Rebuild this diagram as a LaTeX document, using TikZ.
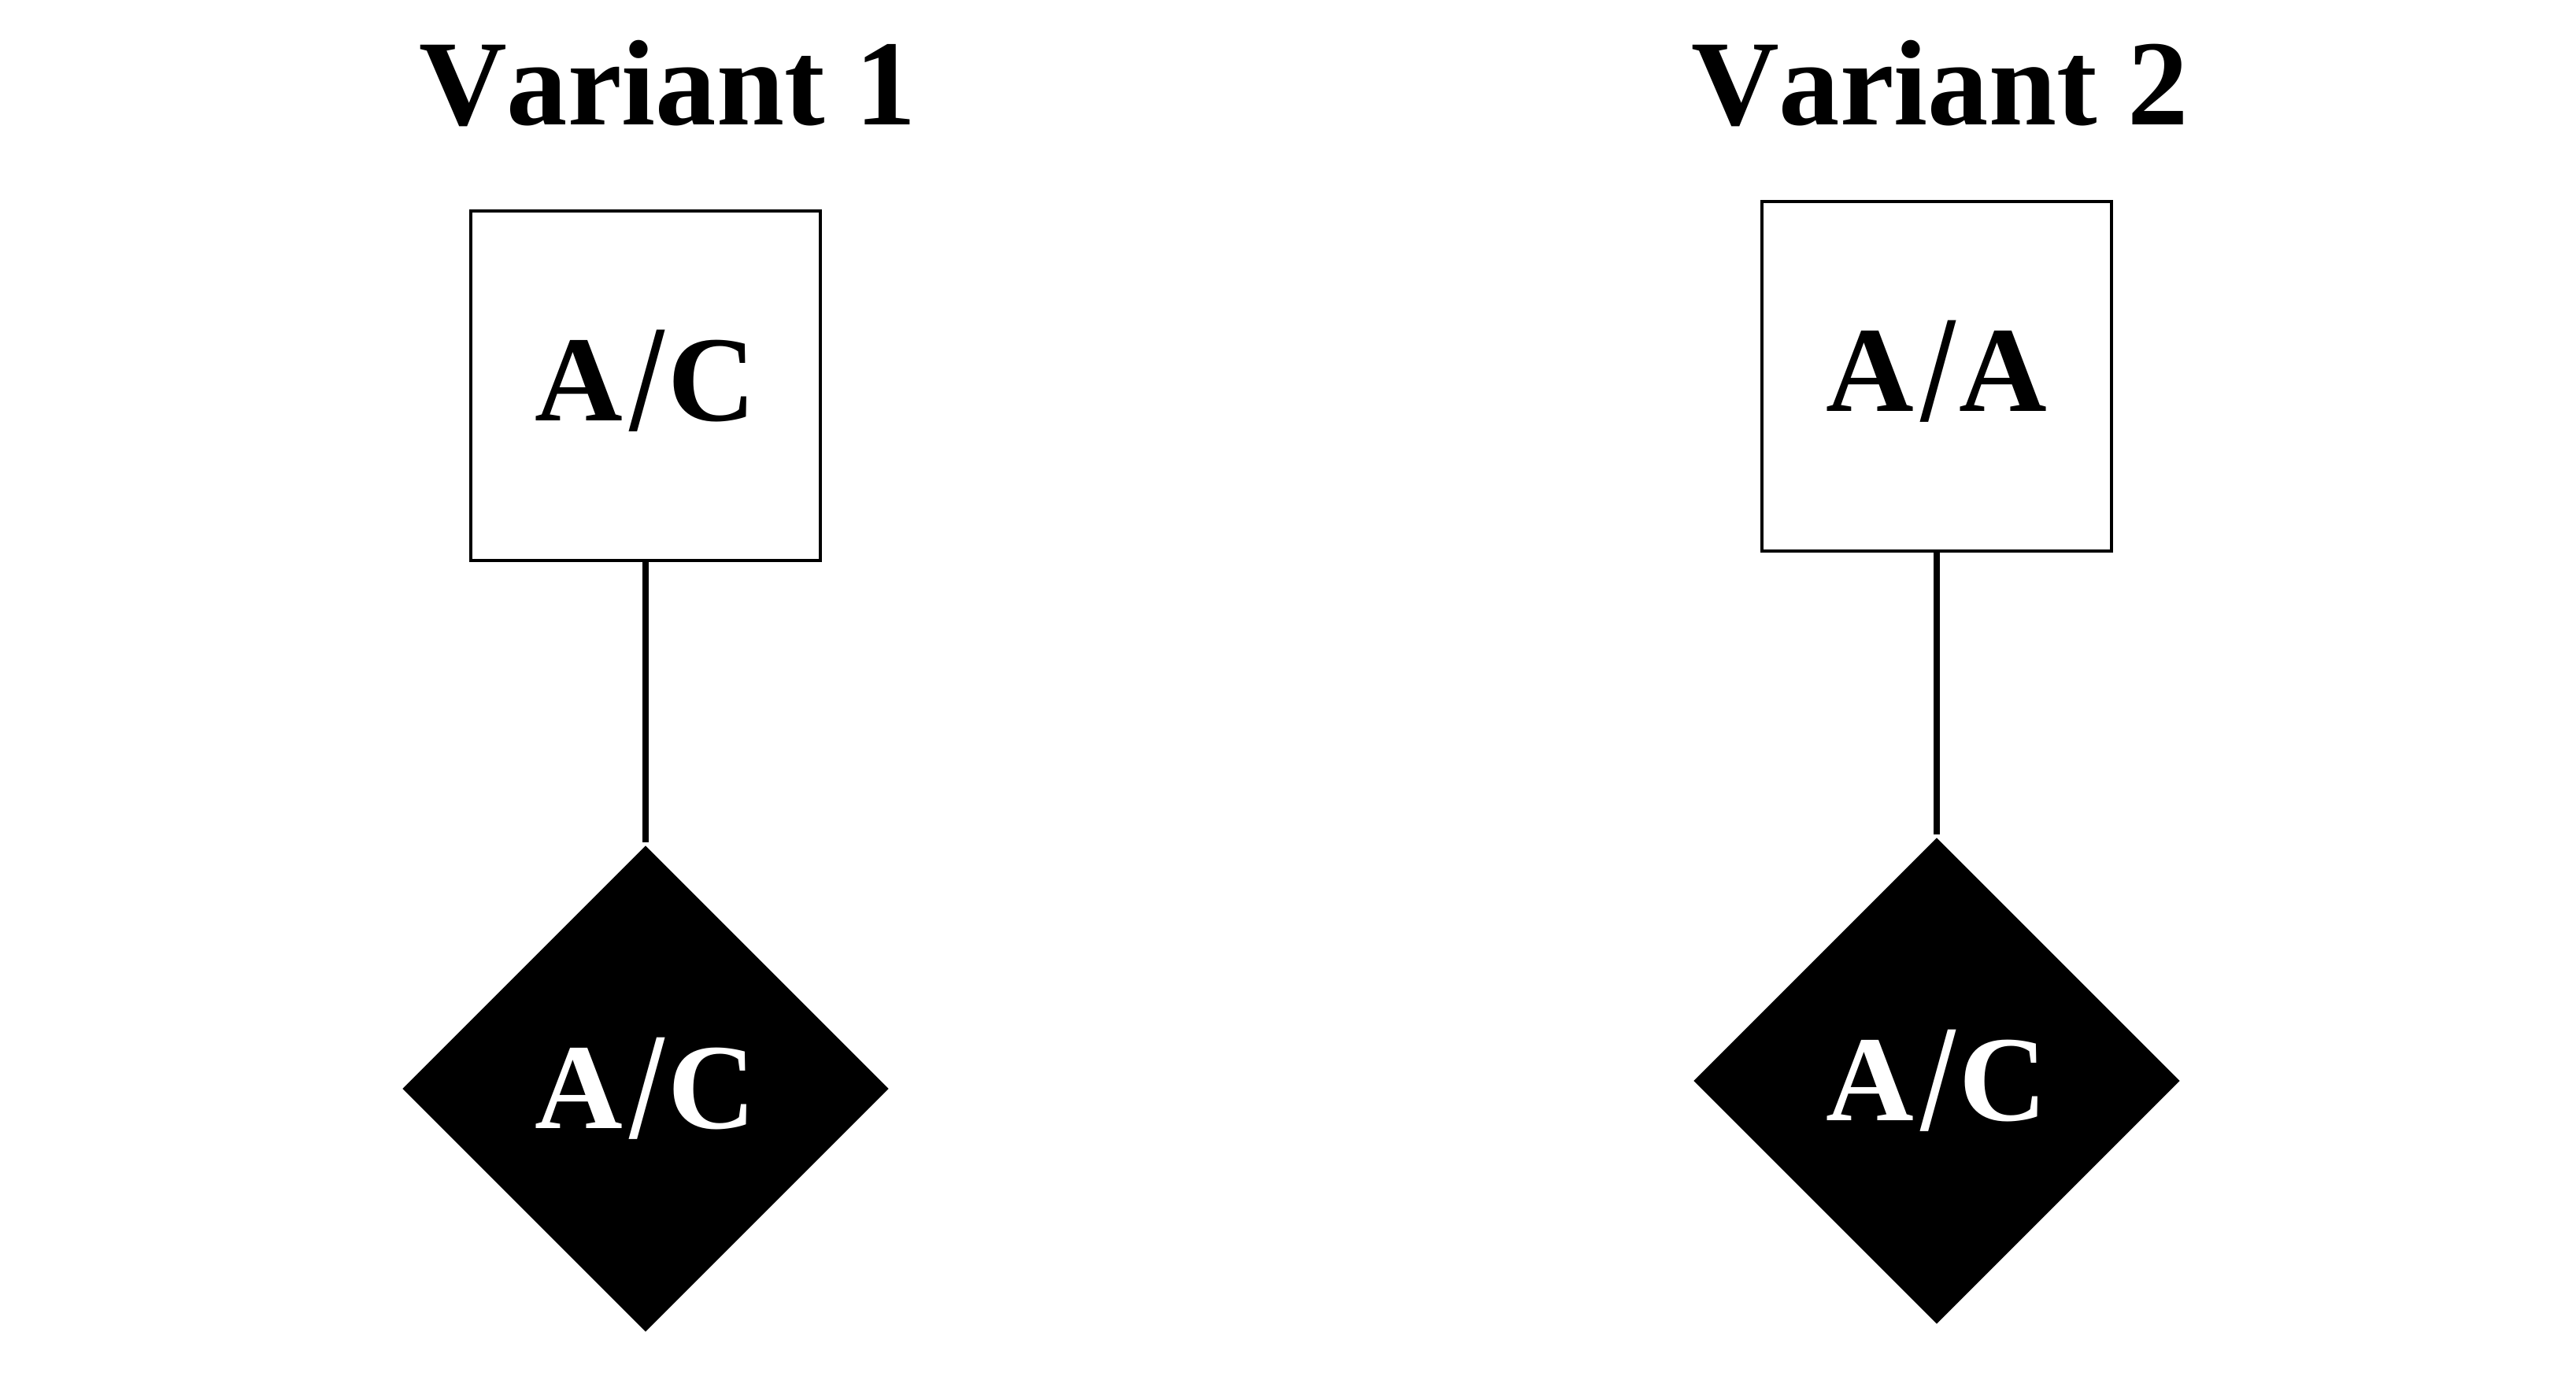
\documentclass[tikz,border=0pt]{standalone}
\usepackage{fontspec}
\setmainfont[Kerning=Off]{Liberation Serif}
\usetikzlibrary{shapes.geometric}

% Define the tall slash
\newcommand{\gsl}{\kern0.06em\raisebox{-0.08em}{\scalebox{1}[1.25]{/}}\kern0.03em}

\begin{document}
\begin{tikzpicture}[
    genbox/.style={draw, line width=1.1pt, minimum size=4.44cm, inner sep=0pt,
        text depth=0.26cm, font=\fontsize{44}{50}\selectfont\bfseries},
    gendia/.style={diamond, fill=black, minimum size=6.18cm, inner sep=0pt,
        text=white, text depth=0.14cm, font=\fontsize{44}{50}\selectfont\bfseries},
    vtitle/.style={anchor=base, font=\fontsize{44}{50}\selectfont\bfseries},
    link/.style={line width=2.2pt, shorten >=1pt}
]
    % Define the page
    \useasboundingbox (0,0) rectangle (32.72,-17.67);

    % Define Coordinates
    \coordinate (L) at (8.20,-4.90);    % left box
    \coordinate (LD) at (8.20,-13.83);  % left diamond
    \coordinate (R) at (24.60,-4.78);   % right box
    \coordinate (RD) at (24.60,-13.73); % right diamond

    % 1. Titles
    \node[vtitle] (t1) at (8.48,-1.59) {Variant 1};
    \node[vtitle] (t2) at (24.64,-1.59) {Variant 2};

    % 2. Boxes and diamonds
    \node[genbox] (box1) at (L) {A\gsl C};
    \node[gendia] (dia1) at (LD) {A\gsl C};
    \node[genbox] (box2) at (R) {A\gsl A};
    \node[gendia] (dia2) at (RD) {A\gsl C};

    % 3. Draw the Lines
    \draw[link] (box1.south) -- (dia1.north);
    \draw[link] (box2.south) -- (dia2.north);

\end{tikzpicture}
\end{document}
